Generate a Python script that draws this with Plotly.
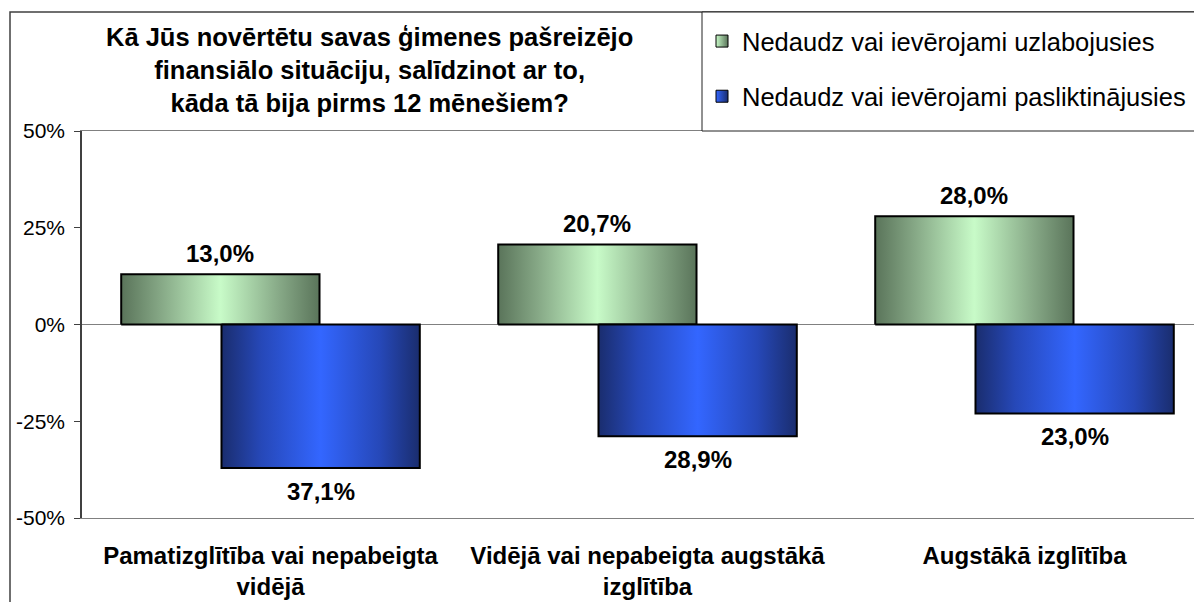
import plotly.graph_objects as go

# ---- data ----
categories = ["Pamatizglītība vai nepabeigta<br>vidējā",
              "Vidējā vai nepabeigta augstākā<br>izglītība",
              "Augstākā izglītība"]
improved = [13.0, 20.7, 28.0]
worsened = [-37.1, -28.9, -23.0]
series_names = ["Nedaudz vai ievērojami uzlabojusies",
                "Nedaudz vai ievērojami pasliktinājusies"]
y_tickvals = [-50, -25, 0, 25, 50]
y_ticktext = ["-50%", "-25%", "0%", "25%", "50%"]
title_lines = ["Kā Jūs novērtētu savas ģimenes pašreizējo",
               "finansiālo situāciju, salīdzinot ar to,",
               "kāda tā bija pirms 12 mēnešiem?"]

# ---- style ----
FONT = "Liberation Sans, Arial, sans-serif"
OFF = 8  # page body margin
W, H = 1202 - OFF, 602 - OFF
ML, MR, MT = 82 - OFF, 0, 131 - OFF
MB = H - (518 - OFF)
PW = W - ML - MR
PH = H - MT - MB
CAT_PX = 377.0
x_range = [-0.5, -0.5 + PW / CAT_PX]
BAR_W = 0.526
offsets = [-0.396, -0.130]
green_scale = [[0, "#5a745a"], [0.2, "#86a886"], [0.5, "#c8fbc8"], [0.8, "#86a886"], [1, "#5a745a"]]
blue_scale = [[0, "#1a2d6e"], [0.2, "#2648b8"], [0.5, "#3366ff"], [0.8, "#2648b8"], [1, "#1a2d6e"]]
scales = [green_scale, blue_scale]
legend_colors = ["#c8fbc8", "#3366ff"]
legend_grad = ["#5a745a", "#1a2d6e"]


def px_x(p):
    # p: pixel x in the screenshot -> paper x
    return (p - OFF - ML) / PW


def px_y(p):
    return (H - MB - (p - OFF)) / PH


fig = go.Figure()
series_vals = [improved, worsened]
for s, vals in enumerate(series_vals):
    for i, v in enumerate(vals):
        x0 = i + offsets[s]
        x1 = x0 + BAR_W
        fig.add_trace(go.Scatter(
            x=[x0, x1, x1, x0, x0], y=[0, 0, v, v, 0],
            mode="lines", fill="toself",
            fillgradient=dict(type="horizontal", colorscale=scales[s]),
            line=dict(color="black", width=2),
            showlegend=False, hoverinfo="text",
            text=f"{categories[i]}: {v}%", name=series_names[s],
        ))
        fig.add_annotation(
            x=(x0 + x1) / 2, y=v, xref="x", yref="y",
            text=f"{abs(v):.1f}%".replace(".", ","),
            showarrow=False, yanchor="middle",
            yshift=21 if v >= 0 else -23,
            font=dict(family=FONT, size=24, color="black", weight="bold"),
        )

# legend entries
for s in range(2):
    fig.add_trace(go.Scatter(
        x=[None], y=[None], mode="markers", name=series_names[s],
        legendgroup=f"g{s}",
        marker=dict(symbol="square", size=12, color=legend_colors[s],
                    gradient=dict(type="horizontal", color=legend_grad[s]),
                    line=dict(color="black", width=1)),
    ))

# title
fig.add_annotation(
    xref="paper", yref="paper", x=px_x(369), y=px_y(70),
    text="<br>".join(title_lines), showarrow=False,
    xanchor="center", yanchor="middle", align="center",
    font=dict(family=FONT, size=25.5, color="black", weight="bold"),
)

# outer chart border (left and top edges visible)
fig.add_shape(type="rect", xref="paper", yref="paper",
              x0=px_x(10), x1=px_x(1260), y0=px_y(660), y1=px_y(12),
              line=dict(color="#404040", width=1.5), fillcolor="rgba(0,0,0,0)",
              layer="below")
# legend box
fig.add_shape(type="rect", xref="paper", yref="paper",
              x0=px_x(702), x1=px_x(1200), y0=px_y(131), y1=px_y(12),
              line=dict(color="#222222", width=1), fillcolor="white",
              layer="above")

fig.update_layout(
    width=W, height=H, autosize=False,
    margin=dict(l=ML, r=MR, t=MT, b=MB),
    paper_bgcolor="white", plot_bgcolor="white",
    font=dict(family=FONT, size=21, color="black"),
    showlegend=True,
    legend=dict(x=px_x(702), y=px_y(18), xanchor="left", yanchor="top",
                bgcolor="rgba(0,0,0,0)", borderwidth=0,
                font=dict(family=FONT, size=25.5, color="black"),
                traceorder="grouped", tracegroupgap=19),
    xaxis=dict(range=x_range, tickvals=[0, 1, 2], ticktext=categories,
               showgrid=False, zeroline=False, showline=True, mirror=True,
               linecolor="#808080", linewidth=1, ticks="",
               tickfont=dict(family=FONT, size=24, color="black", weight="bold"),
               ticklabelstandoff=16, fixedrange=True),
    xaxis2=dict(overlaying="x", matches="x", anchor="free", position=0.5,
                side="bottom", showline=False, showgrid=False, zeroline=False,
                ticks="outside", ticklen=6, tickcolor="#808080",
                tickvals=[0.5, 1.5], showticklabels=False),
    yaxis=dict(range=[-50, 50], tickvals=y_tickvals, ticktext=y_ticktext,
               showgrid=False, zeroline=True, zerolinecolor="#808080",
               zerolinewidth=1, showline=True, linecolor="#404040",
               linewidth=1.5, ticks="outside", ticklen=6, tickcolor="#404040",
               tickfont=dict(family=FONT, size=21, color="black"),
               ticklabelstandoff=5, fixedrange=True),
)

fig.write_html("out.html")
